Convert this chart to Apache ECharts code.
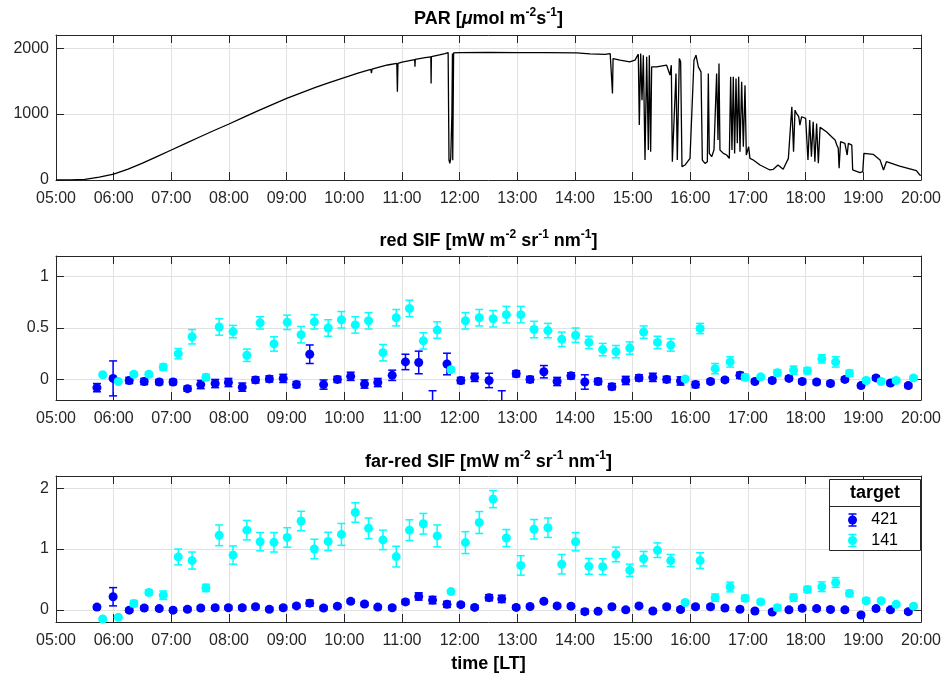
<!DOCTYPE html>
<html><head><meta charset="utf-8">
<script src="https://cdn.jsdelivr.net/npm/echarts@6/dist/echarts.min.js"></script>
<style>html,body{margin:0;padding:0;background:#fff}#c{width:949px;height:680px}</style>
</head><body><div id="c"></div>
<script>
// ---------------- DATA ----------------
const xTickLabels = ['05:00','06:00','07:00','08:00','09:00','10:00','11:00','12:00','13:00','14:00','15:00','16:00','17:00','18:00','19:00','20:00'];
const parTicks = [0, 1000, 2000];
const redTicks = [0, 0.5, 1];
const farTicks = [0, 1, 2];

// PAR (decimal hours, µmol m-2 s-1)
const parTime = [5.00,5.25,5.50,5.75,6.00,6.25,6.50,6.75,7.00,7.25,7.50,7.75,8.00,8.25,8.50,8.75,9.00,9.25,9.50,9.75,10.00,10.25,10.46,10.47,10.48,10.62,10.75,10.91,10.92,10.93,11.00,11.22,11.225,11.23,11.40,11.50,11.505,11.51,11.65,11.745,11.80,11.815,11.83,11.845,11.865,11.875,11.88,11.895,12.00,12.50,13.00,13.50,14.03,14.26,14.52,14.61,14.64,14.65,14.66,14.78,14.95,15.04,15.098,15.115,15.139,15.162,15.185,15.214,15.243,15.272,15.289,15.312,15.329,15.416,15.589,15.618,15.647,15.670,15.688,15.717,15.751,15.774,15.809,15.832,15.855,15.907,15.994,16.063,16.098,16.139,16.185,16.208,16.254,16.295,16.312,16.329,16.370,16.410,16.456,16.480,16.497,16.514,16.572,16.630,16.676,16.699,16.722,16.745,16.768,16.792,16.815,16.838,16.861,16.890,16.919,16.948,16.971,16.988,17.011,17.034,17.092,17.208,17.38,17.44,17.52,17.61,17.70,17.76,17.79,17.815,17.84,17.88,17.90,17.93,18.00,18.04,18.07,18.10,18.13,18.16,18.19,18.22,18.25,18.28,18.36,18.45,18.51,18.54,18.565,18.58,18.605,18.68,18.72,18.74,18.80,18.815,18.94,18.99,19.01,19.17,19.29,19.35,19.40,19.63,19.92,19.98,20.00];
const parValue = [0,2,10,45,90,165,255,355,455,555,656,755,850,950,1050,1145,1237,1322,1404,1482,1555,1625,1680,1620,1683,1717,1745,1768,1338,1770,1790,1828,1717,1830,1858,1869,1465,1872,1900,1919,1934,303,252,330,985,1919,300,1929,1934,1936,1934,1932,1929,1915,1905,1919,1934,1313,1843,1818,1793,1818,1909,833,1919,1212,1894,303,1869,454,1894,429,1717,1717,1742,1768,1591,1742,278,303,1616,303,1843,1793,202,227,328,1818,1894,1717,1641,303,252,278,1616,404,354,454,1616,606,1768,454,404,379,328,1566,454,1566,404,1540,556,1566,429,1490,505,1439,379,404,505,328,303,227,152,162,227,162,328,1111,429,1060,1010,960,833,960,934,303,909,354,884,278,858,253,798,783,732,656,606,530,480,177,581,556,379,556,530,152,111,126,404,389,303,152,278,212,141,76,70];

// SIF samples, target 421 and target 141 (decimal hours)
const time421 = [5.71,5.99,6.27,6.53,6.79,7.03,7.28,7.51,7.76,7.99,8.23,8.46,8.70,8.94,9.17,9.40,9.64,9.88,10.11,10.35,10.58,10.83,11.06,11.29,11.53,11.78,12.02,12.26,12.51,12.73,12.98,13.22,13.46,13.69,13.93,14.17,14.40,14.64,14.88,15.11,15.35,15.59,15.83,16.09,16.35,16.60,16.86,17.12,17.42,17.71,17.94,18.19,18.43,18.68,18.96,19.22,19.47,19.78];
const time141 = [5.81,6.08,6.35,6.61,6.86,7.12,7.36,7.60,7.83,8.07,8.31,8.54,8.78,9.01,9.25,9.48,9.72,9.95,10.19,10.42,10.67,10.90,11.13,11.37,11.61,11.85,12.10,12.34,12.58,12.81,13.06,13.29,13.53,13.77,14.01,14.24,14.48,14.71,14.95,15.19,15.43,15.66,15.91,16.17,16.43,16.69,16.95,17.22,17.51,17.79,18.03,18.28,18.52,18.76,19.05,19.31,19.57,19.87];

const red421 = [-0.08,0.01,-0.01,-0.02,-0.025,-0.025,-0.09,-0.05,-0.04,-0.03,-0.075,-0.005,0.005,0.01,-0.05,0.245,-0.05,0.0,0.03,-0.045,-0.03,0.04,0.17,0.165,-0.28,0.15,-0.01,0.02,-0.01,-0.28,0.055,0.0,0.075,-0.02,0.035,-0.025,-0.02,-0.07,-0.01,0.015,0.02,0.0,-0.015,-0.05,-0.02,-0.005,0.04,-0.02,-0.01,0.01,-0.02,-0.025,-0.04,0.0,-0.06,0.015,-0.035,-0.06];
const red421Err = [0.04,0.17,0.03,0.03,0.025,0.025,0.025,0.04,0.04,0.04,0.04,0.03,0.03,0.04,0.03,0.09,0.045,0.03,0.04,0.04,0.04,0.05,0.075,0.11,0.17,0.105,0.03,0.04,0.07,0.17,0.03,0.03,0.06,0.04,0.03,0.07,0.03,0.03,0.04,0.03,0.04,0.03,0.04,0.03,0.02,0.02,0.03,0.02,0.02,0.02,0.02,0.02,0.02,0.02,0.02,0.02,0.02,0.02];
const red141 = [0.045,-0.02,0.05,0.05,0.12,0.25,0.415,0.02,0.51,0.465,0.235,0.55,0.345,0.555,0.435,0.56,0.50,0.58,0.53,0.57,0.26,0.60,0.69,0.375,0.48,0.095,0.57,0.60,0.59,0.63,0.63,0.485,0.475,0.39,0.43,0.36,0.29,0.27,0.305,0.46,0.36,0.335,0.005,0.495,0.105,0.17,0.02,0.025,0.065,0.09,0.085,0.2,0.17,0.06,-0.01,-0.02,-0.01,0.015];
const red141Err = [0.01,0.01,0.02,0.02,0.03,0.05,0.07,0.03,0.08,0.06,0.06,0.06,0.07,0.07,0.08,0.07,0.08,0.08,0.08,0.08,0.08,0.08,0.08,0.08,0.08,0.02,0.08,0.08,0.08,0.08,0.08,0.08,0.07,0.07,0.07,0.06,0.06,0.06,0.06,0.06,0.06,0.06,0.02,0.05,0.05,0.05,0.03,0.02,0.03,0.04,0.03,0.04,0.05,0.03,0.02,0.02,0.02,0.02];

const far421 = [0.045,0.215,-0.005,0.03,0.02,-0.005,0.01,0.03,0.035,0.035,0.035,0.05,0.01,0.035,0.065,0.11,0.03,0.06,0.14,0.095,0.045,0.035,0.13,0.22,0.16,0.09,0.085,0.04,0.2,0.18,0.04,0.055,0.14,0.065,0.06,-0.03,-0.025,0.05,0.0,0.065,-0.02,0.05,0.005,0.05,0.05,0.03,0.01,-0.02,-0.035,0.0,0.025,0.02,0.005,0.0,-0.085,0.02,0.0,-0.03];
const far421Err = [0.03,0.15,0.03,0.03,0.03,0.03,0.03,0.03,0.03,0.03,0.03,0.03,0.03,0.03,0.03,0.05,0.03,0.03,0.03,0.03,0.03,0.03,0.04,0.06,0.06,0.05,0.03,0.03,0.05,0.06,0.03,0.03,0.03,0.03,0.03,0.04,0.03,0.03,0.03,0.03,0.03,0.03,0.03,0.03,0.03,0.03,0.03,0.03,0.03,0.03,0.03,0.03,0.03,0.03,0.03,0.03,0.03,0.03];
const far141 = [-0.15,-0.12,0.105,0.285,0.24,0.87,0.81,0.36,1.225,0.9,1.31,1.12,1.11,1.19,1.46,1.0,1.125,1.24,1.6,1.34,1.15,0.875,1.31,1.415,1.215,0.3,1.105,1.435,1.82,1.18,0.73,1.325,1.35,0.75,1.12,0.715,0.71,0.91,0.65,0.84,0.98,0.81,0.12,0.81,0.2,0.375,0.19,0.13,0.035,0.2,0.335,0.38,0.45,0.27,0.15,0.15,0.09,0.06];
const far141Err = [0.02,0.02,0.05,0.04,0.07,0.13,0.14,0.06,0.17,0.15,0.16,0.15,0.16,0.16,0.16,0.16,0.15,0.18,0.16,0.17,0.16,0.17,0.17,0.17,0.18,0.03,0.18,0.18,0.14,0.14,0.16,0.16,0.16,0.16,0.15,0.13,0.13,0.12,0.10,0.12,0.12,0.10,0.03,0.13,0.06,0.08,0.05,0.04,0.04,0.06,0.05,0.08,0.08,0.05,0.04,0.03,0.03,0.03];

const targetNames = ['421', '141'];
const targetColors = ['#0000ff', '#00ffff'];

// ---------------- CHART ----------------
const FONT = "'Liberation Sans', Arial, Helvetica, sans-serif";
const AX = '#262626';
const GRIDC = '#e1e1e1';
const chart = echarts.init(document.getElementById('c'), null, {renderer: 'canvas'});

const grids = [
  {left: 56, right: 28, top: 35, height: 145},
  {left: 56, right: 28, top: 256, height: 144},
  {left: 56, right: 28, top: 476, height: 146}
];
const yDefs = [
  {min: 0, max: 2200, ticks: parTicks},
  {min: -0.2, max: 1.2, ticks: redTicks},
  {min: -0.2, max: 2.2, ticks: farTicks}
];
const xVals = xTickLabels.map((s, i) => 5 + i);

const xAxes = [], yAxes = [];
grids.forEach((g, i) => {
  xAxes.push({
    type: 'value', gridIndex: i, min: 5, max: 20, position: 'bottom',
    axisLine: {show: true, onZero: false, lineStyle: {color: AX, width: 1}},
    axisTick: {show: true, inside: true, length: 8, lineStyle: {color: AX}, customValues: xVals},
    axisLabel: {show: true, margin: 11, fontSize: 16, color: AX, fontFamily: FONT, customValues: xVals,
      formatter: v => xTickLabels[Math.round(v) - 5] || ''},
    splitLine: {show: true, lineStyle: {color: GRIDC, width: 1}}
  });
  xAxes.push({
    type: 'value', gridIndex: i, min: 5, max: 20, position: 'top',
    axisLine: {show: true, onZero: false, lineStyle: {color: AX, width: 1}},
    axisTick: {show: true, inside: true, length: 8, lineStyle: {color: AX}, customValues: xVals},
    axisLabel: {show: false, customValues: xVals},
    splitLine: {show: false}
  });
  const d = yDefs[i];
  yAxes.push({
    type: 'value', gridIndex: i, min: d.min, max: d.max, position: 'left',
    axisLine: {show: true, onZero: false, lineStyle: {color: AX, width: 1}},
    axisTick: {show: true, inside: true, length: 8, lineStyle: {color: AX}, customValues: d.ticks},
    axisLabel: {show: true, margin: 7, fontSize: 16, color: AX, fontFamily: FONT, customValues: d.ticks,
      formatter: v => String(v)},
    splitLine: {show: true, lineStyle: {color: GRIDC, width: 1}}
  });
  yAxes.push({
    type: 'value', gridIndex: i, min: d.min, max: d.max, position: 'right',
    axisLine: {show: true, onZero: false, lineStyle: {color: AX, width: 1}},
    axisTick: {show: true, inside: true, length: 8, lineStyle: {color: AX}, customValues: d.ticks},
    axisLabel: {show: false, customValues: d.ticks},
    splitLine: {show: false}
  });
});

function errRender(color) {
  return function (params, api) {
    const x = api.value(0), y = api.value(1), e = api.value(2);
    const top = api.coord([x, y + e]);
    const bot = api.coord([x, y - e]);
    const hw = 4;
    const style = {stroke: color, lineWidth: 1.5};
    return {type: 'group', children: [
      {type: 'line', shape: {x1: top[0], y1: top[1], x2: bot[0], y2: bot[1]}, style},
      {type: 'line', shape: {x1: top[0] - hw, y1: top[1], x2: top[0] + hw, y2: top[1]}, style},
      {type: 'line', shape: {x1: bot[0] - hw, y1: bot[1], x2: bot[0] + hw, y2: bot[1]}, style}
    ]};
  };
}

const series = [];
series.push({
  type: 'line', name: 'PAR', xAxisIndex: 0, yAxisIndex: 0,
  data: parTime.map((t, i) => [t, parValue[i]]),
  showSymbol: false, symbol: 'none', clip: true,
  lineStyle: {color: '#000', width: 1.3}, animation: false
});
const panels = [
  {grid: 1, sets: [[time421, red421, red421Err], [time141, red141, red141Err]]},
  {grid: 2, sets: [[time421, far421, far421Err], [time141, far141, far141Err]]}
];
panels.forEach(p => {
  p.sets.forEach((s, k) => {
    const [tt, vv, ee] = s;
    const data = tt.map((t, i) => [t, vv[i], ee[i]]);
    series.push({
      type: 'custom', name: targetNames[k], xAxisIndex: p.grid * 2, yAxisIndex: p.grid * 2,
      renderItem: errRender(targetColors[k]), data, clip: true, animation: false, z: 2 + k * 2,
      encode: {x: 0, y: 1}
    });
    series.push({
      type: 'scatter', name: targetNames[k], xAxisIndex: p.grid * 2, yAxisIndex: p.grid * 2,
      data: data.map(d => [d[0], d[1]]), symbol: 'circle', symbolSize: 9, clip: true,
      itemStyle: {color: targetColors[k], opacity: 1}, animation: false, z: 3 + k * 2
    });
  });
});

const rich = {
  b: {fontSize: 18, fontWeight: 'bold', fontFamily: FONT, color: '#000', lineHeight: 24},
  mu: {fontSize: 18, fontStyle: 'italic', fontFamily: FONT, color: '#000', lineHeight: 24},
  sup: {fontSize: 12, fontWeight: 'bold', fontFamily: FONT, color: '#000', lineHeight: 12, verticalAlign: 'top'}
};
function mkTitle(text, cy) {
  return {text, left: 488.5, top: cy - 12, textAlign: 'center', padding: 0,
    textStyle: {rich, fontSize: 18, fontWeight: 'bold', fontFamily: FONT, color: '#000', lineHeight: 24}};
}

const option = {
  animation: false,
  backgroundColor: '#fff',
  title: [
    mkTitle('{b|PAR [}{mu|μ}{b|mol m}{sup|-2}{b|s}{sup|-1}{b|]}', 19),
    mkTitle('{b|red SIF [mW m}{sup|-2}{b| sr}{sup|-1}{b| nm}{sup|-1}{b|]}', 241),
    mkTitle('{b|far-red SIF [mW m}{sup|-2}{b| sr}{sup|-1}{b| nm}{sup|-1}{b|]}', 462),
    mkTitle('{b|time [LT]}', 664)
  ],
  grid: grids,
  xAxis: xAxes,
  yAxis: yAxes,
  series,
  graphic: [
    {type: 'rect', z: 100, shape: {x: 829.5, y: 479.5, width: 91, height: 71},
      style: {fill: '#fff', stroke: AX, lineWidth: 1}},
    {type: 'line', z: 101, shape: {x1: 829.5, y1: 506.5, x2: 920.5, y2: 506.5},
      style: {stroke: AX, lineWidth: 1}},
    {type: 'text', z: 101, x: 875, y: 493,
      style: {text: 'target', font: 'bold 18px ' + FONT, fill: '#000', align: 'center', verticalAlign: 'middle'}},
    ...targetNames.flatMap((nm, k) => {
      const cy = 520 + k * 20.5, cx = 852.5, col = targetColors[k];
      return [
        {type: 'line', z: 101, shape: {x1: cx, y1: cy - 6, x2: cx, y2: cy + 6}, style: {stroke: col, lineWidth: 1.5}},
        {type: 'line', z: 101, shape: {x1: cx - 4, y1: cy - 6, x2: cx + 4, y2: cy - 6}, style: {stroke: col, lineWidth: 1.5}},
        {type: 'line', z: 101, shape: {x1: cx - 4, y1: cy + 6, x2: cx + 4, y2: cy + 6}, style: {stroke: col, lineWidth: 1.5}},
        {type: 'circle', z: 102, shape: {cx, cy, r: 4.5}, style: {fill: col}},
        {type: 'text', z: 101, x: 898, y: cy,
          style: {text: nm, font: '16px ' + FONT, fill: '#000', align: 'right', verticalAlign: 'middle'}}
      ];
    })
  ]
};
chart.setOption(option);
</script>
</body></html>
